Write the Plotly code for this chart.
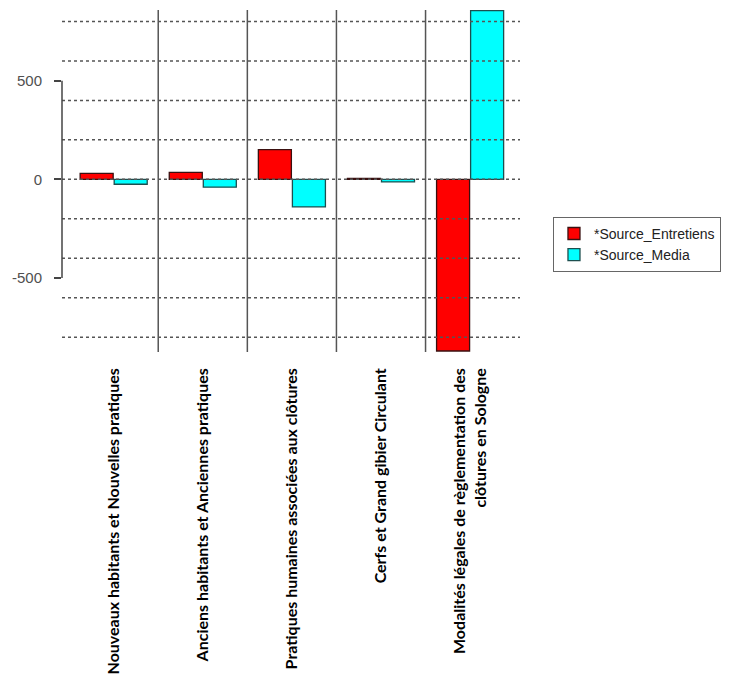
import plotly.graph_objects as go

categories = [
    "Nouveaux habitants et Nouvelles pratiques",
    "Anciens habitants et Anciennes pratiques",
    "Pratiques humaines associées aux clôtures",
    "Cerfs et Grand gibier Circulant",
    "Modalités légales de règlementation des<br>clôtures en Sologne",
]
entretiens = [30, 35, 150, 5, -870]
media = [-25, -40, -140, -13, 855]

y_ticks = [-500, 0, 500]
grid_vals = [-800, -600, -400, -200, 0, 200, 400, 600, 800]

red = "#FF0000"
cyan = "#00FFFF"
grey = "#555555"

fig = go.Figure()
fig.add_trace(go.Bar(x=categories, y=entretiens, name="*Source_Entretiens",
                     marker=dict(color=red, line=dict(color="#3a1010", width=1.3))))
fig.add_trace(go.Bar(x=categories, y=media, name="*Source_Media",
                     marker=dict(color=cyan, line=dict(color="#1d4f4f", width=1.3))))

# dotted horizontal grid, drawn over the bars like abline() in R
for v in grid_vals:
    fig.add_shape(type="line", xref="paper", yref="y", x0=0, x1=1, y0=v, y1=v,
                  line=dict(color=grey, width=1.5, dash="dot"), layer="above")

# vertical separators between groups
for i in range(len(categories) - 1):
    fig.add_shape(type="line", xref="x", yref="paper", x0=i + 0.5, x1=i + 0.5, y0=0, y1=1,
                  line=dict(color=grey, width=1.5), layer="above")

# R style axis line, only between outer ticks
fig.add_shape(type="line", xref="paper", yref="y", x0=0, x1=0, y0=min(y_ticks), y1=max(y_ticks),
              line=dict(color="#444444", width=1.5), layer="above")

# page body adds 8px offset, margins compensate
fig.update_layout(
    width=730, height=682,
    barmode="group", bargap=0.236, bargroupgap=0.03,
    plot_bgcolor="white", paper_bgcolor="white",
    margin=dict(l=54, r=218, t=2, b=338, pad=0),
    legend=dict(x=1.072, y=0.395, xanchor="left", yanchor="top",
                bordercolor="#666666", borderwidth=1,
                font=dict(family="Liberation Sans, Arial", size=14, color="#222222"),
                tracegroupgap=0),
)
fig.update_xaxes(range=[-0.58, 4.56], tickangle=-90, showgrid=False, showline=False,
                 ticks="", ticklabelstandoff=12, automargin=False,
                 tickfont=dict(family="Lato", size=16, color="black", weight="bold"))
fig.update_yaxes(range=[-875, 858], tickmode="array", tickvals=y_ticks, ticktext=[str(t) for t in y_ticks],
                 showgrid=False, zeroline=False, showline=False, automargin=False,
                 ticks="outside", ticklen=7, tickcolor="#444444", tickwidth=1.5, ticklabelstandoff=9,
                 tickfont=dict(family="Liberation Sans, Arial", size=15, color="#505050"))

fig.write_html("out.html")
